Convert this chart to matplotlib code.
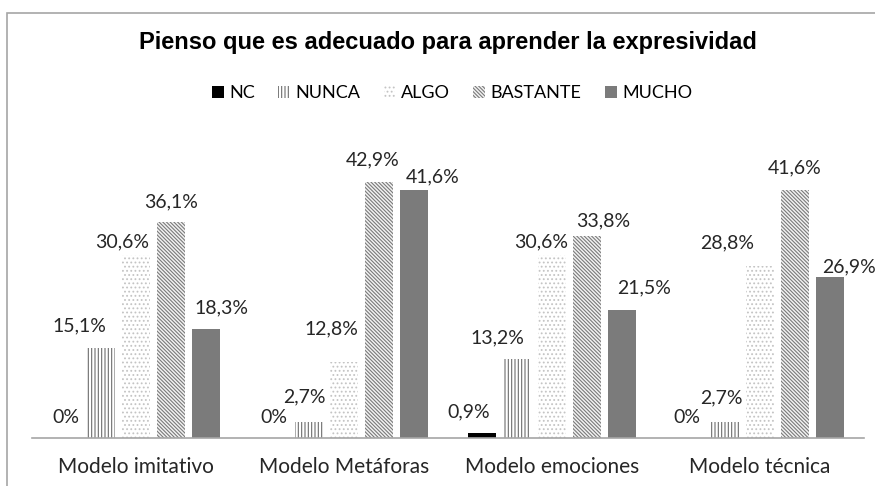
import numpy as np
import matplotlib
matplotlib.use("Agg")
import matplotlib.pyplot as plt
from matplotlib.patches import Rectangle, Patch

categories = ["Modelo imitativo", "Modelo Metáforas", "Modelo emociones", "Modelo técnica"]
series = ["NC", "NUNCA", "ALGO", "BASTANTE", "MUCHO"]
nc = [0.0, 0.0, 0.9, 0.0]
nunca = [15.1, 2.7, 13.2, 2.7]
algo = [30.6, 12.8, 30.6, 28.8]
bastante = [36.1, 42.9, 33.8, 41.6]
mucho = [18.3, 41.6, 21.5, 26.9]
values = [nc, nunca, algo, bastante, mucho]

# hand-placed data labels in the original: shift (px) and baseline gap above bar (px)
label_dx = [[0, 0, -13, -3],
            [-22, -5, -20, -4],
            [-14, -13, -11, -33],
            [0, -6, 16, 0],
            [16, 19, 22, 19]]
label_gap = [[15, 15, 15, 15],
             [16, 20, 16, 19],
             [8, 27, 8, 18],
             [15, 17, 10, 16],
             [15, 7, 16, 5]]

# fill, hatch colour, hatch
styles = [
    ("black", "black", None),
    ("white", "#6e6e6e", "|||||"),
    ("white", "#c4c4c4", "...."),
    ("#f2f2f2", "#7a7a7a", "\\" * 9),
    ("#7b7b7b", "#7b7b7b", None),
]

plt.rcParams["hatch.linewidth"] = 0.8
label_font = "Lato"
px = 72 / 100  # points per pixel at dpi 100

fig = plt.figure(figsize=(8.75, 4.86), dpi=100)
fig.patches.append(Rectangle((7 / 875, -0.1), 1.2, (486 - 13) / 486 + 0.1,
                             transform=fig.transFigure, fill=False,
                             edgecolor="#a6a6a6", linewidth=1.2))

ax = fig.add_axes([32 / 875, 48 / 486, 832 / 875, 298.5 / 486])
x = np.arange(len(categories))
step = 0.168
width = 0.135

handles = []
for i, (name, vals) in enumerate(zip(series, values)):
    face, hcol, hatch = styles[i]
    pos = x + (i - 2) * step
    ax.bar(pos, vals, width, color=face, edgecolor=hcol, hatch=hatch, linewidth=0)
    for j, (bx, v) in enumerate(zip(pos, vals)):
        txt = "0%" if v == 0 else f"{v:.1f}%".replace(".", ",")
        ax.annotate(txt, (bx, v), xytext=(label_dx[i][j] * px, label_gap[i][j] * px),
                    textcoords="offset points", ha="center", va="baseline",
                    fontsize=14, family=label_font, color="#262626",
                    annotation_clip=False)
    handles.append(Patch(facecolor=face, edgecolor=hcol, hatch=hatch, linewidth=0))

ax.set_xlim(-0.5, 3.5)
ax.set_ylim(0, 50)
for s in ["top", "right", "left"]:
    ax.spines[s].set_visible(False)
ax.spines["bottom"].set_color("#a6a6a6")
ax.spines["bottom"].set_linewidth(1.2)
ax.set_yticks([])
ax.set_xticks(x)
ax.set_xticklabels(categories, fontsize=15, family=label_font, color="#262626")
ax.tick_params(axis="x", length=0, pad=14)

fig.text(448 / 875, 1 - 43 / 486, "Pienso que es adecuado para aprender la expresividad",
         ha="center", va="center", fontsize=17, fontweight="bold",
         family="Liberation Sans", color="black")

fig.legend(handles, series, loc="center", bbox_to_anchor=(452 / 875, 1 - 93 / 486),
           ncol=5, frameon=False, handlelength=0.65, handleheight=0.65,
           handletextpad=0.3, columnspacing=1.3,
           prop={"family": label_font, "size": 13})

fig.savefig("out.png", dpi=100)
